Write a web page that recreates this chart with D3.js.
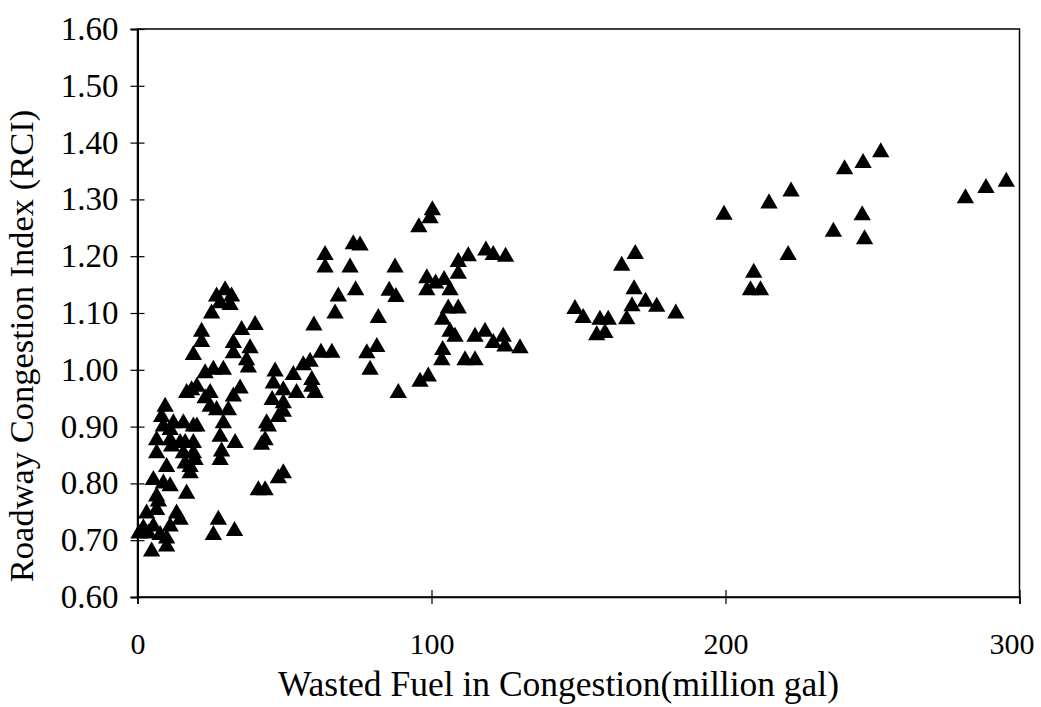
<!DOCTYPE html>
<html>
<head>
<meta charset="utf-8">
<script src="https://cdn.jsdelivr.net/npm/d3@7"></script>
<style>
  body { margin: 0; background: #fff; }
  svg { display: block; }
  svg text { font-family: 'Liberation Serif', 'Times New Roman', serif; fill: #000; }
</style>
</head>
<body>
<div id="chart"></div>
<script>
// tick values
const xTicks = [0, 100, 200, 300];
const yTicks = [0.6, 0.7, 0.8, 0.9, 1.0, 1.1, 1.2, 1.3, 1.4, 1.5, 1.6];

// [wasted fuel (million gal), RCI]
const pointsLow = [
  [0.5,0.712],[2.0,0.721],[3.7,0.712],[5.4,0.724],[7.7,0.709],[9.9,0.703],
  [4.8,0.680],[9.9,0.689],[3.1,0.747],[6.5,0.753],[13.3,0.747],[14.5,0.736],
  [11.1,0.724],[7.1,0.768],[6.5,0.777],[5.4,0.806],[8.8,0.800],[11.1,0.795],
  [16.7,0.782],[17.9,0.818],[17.9,0.829],[9.9,0.829],[6.5,0.853],[11.6,0.865],
  [14.5,0.871],[15.6,0.853],[19.0,0.853],[6.5,0.876],[11.1,0.876],[11.1,0.894],
  [9.4,0.935],[8.2,0.917],[8.8,0.900],[12.2,0.906],[15.6,0.906],[19.0,0.900],
  [20.2,0.900],[16.2,0.871],[19.0,0.871],[16.2,0.835],[19.6,0.841],
  [16.7,0.959],[20.2,0.970],[23.0,0.950],[24.7,0.935],[18.4,0.964],[24.7,0.959],
  [26.9,0.929],[34.9,0.967],[32.6,0.953],[30.9,0.929],[29.2,0.906],[28.1,0.882],
  [28.6,0.856],[33.2,0.871],[28.1,0.841],[23.0,0.994],[25.8,1.000],[29.2,1.000],
  [37.7,1.004],[37.1,1.017],[32.6,1.029],[38.3,1.038],[32.6,1.047],[35.4,1.070],
  [40.0,1.079],[19.0,1.026],[21.8,1.049],[21.8,1.067],[25.2,1.099],[28.1,1.117],
  [31.5,1.114],[26.9,1.129],[32.0,1.129],[29.8,1.140],
  [27.5,0.736],[25.8,0.709],[33.0,0.716]
];

const pointsMid = [
  [46.8,0.997],[46.2,0.976],[49.6,0.964],[54.1,0.959],[60.4,0.959],[59.3,0.982],
  [59.3,0.970],[56.4,1.008],[58.7,1.014],[53.0,0.991],[49.6,0.941],[49.6,0.926],
  [47.9,0.917],[44.5,0.900],[43.4,0.876],[42.2,0.868],[49.6,0.818],[47.9,0.809],
  [41.1,0.788],[43.4,0.788],[45.8,0.947],[43.9,0.906],[60.0,1.078],[62.4,1.030],
  [66.1,1.030],
  [63.8,1.202],[63.8,1.180],[72.3,1.180],[87.6,1.180],[73.4,1.221],[75.7,1.219],
  [68.3,1.129],[74.2,1.140],[85.6,1.139],[87.9,1.128],[67.2,1.099],[81.9,1.091],
  [78.0,1.029],[81.4,1.040],[79.1,1.000],[88.7,0.959],[96.1,0.979],[98.9,0.988],
  [98.4,1.161],[98.4,1.140],[100.3,1.281],[99.5,1.267],[95.7,1.251],[101.4,1.152]
];

const pointsHigh = [
  [104.3,1.158],[106.3,1.140],[109.1,1.190],[112.5,1.200],[118.5,1.210],[121.0,1.202],
  [125.2,1.199],[109.1,1.169],[105.7,1.108],[109.1,1.108],[103.8,1.088],[106.3,1.067],
  [108.0,1.058],[114.8,1.058],[118.2,1.067],[121.0,1.047],[124.4,1.058],[125.0,1.041],
  [130.1,1.038],[111.4,1.017],[114.8,1.017],[103.8,1.035],[103.5,1.017],
  [148.8,1.107],[151.6,1.091],[157.3,1.088],[160.1,1.088],[156.2,1.061],[159.0,1.065],
  [164.7,1.183],[169.3,1.204],[168.9,1.142],[172.8,1.120],[168.2,1.112],[176.6,1.111],
  [166.4,1.089],[183.1,1.099],
  [199.5,1.273],[214.8,1.293],[222.3,1.314],[209.6,1.171],[208.5,1.140],[211.9,1.140],
  [221.3,1.202],[236.7,1.243],[246.5,1.272],[247.3,1.230],[240.5,1.353],[246.8,1.364],
  [252.8,1.383],[281.6,1.302],[288.6,1.320],[295.5,1.331]
];

const points = pointsLow.concat(pointsMid, pointsHigh);

const width = 1041, height = 707;
const margin = { top: 29, right: 21.5, bottom: 110, left: 137.5 };

const svg = d3.select('#chart')
  .append('svg')
  .attr('width', width)
  .attr('height', height);

const x = d3.scaleLinear()
  .domain([0, 300])
  .range([margin.left, width - margin.right]);

const y = d3.scaleLinear()
  .domain([0.6, 1.6])
  .range([height - margin.bottom, margin.top]);

// frame
svg.append('rect')
  .attr('x', x(0))
  .attr('y', y(1.6))
  .attr('width', x(300) - x(0))
  .attr('height', y(0.6) - y(1.6))
  .attr('fill', 'none')
  .attr('stroke', '#000')
  .attr('stroke-width', 1.5);

// x axis
const xAxis = svg.append('g')
  .attr('transform', `translate(0,${y(0.6)})`)
  .call(d3.axisBottom(x).tickValues(xTicks).tickSize(7).tickPadding(29).tickFormat(d3.format('d')));
xAxis.attr('font-family', null);
xAxis.select('.domain').attr('stroke-width', 1.5);
xAxis.selectAll('.tick line').attr('y1', -7).attr('stroke-width', 1.2);
xAxis.selectAll('.tick text')
  .attr('font-size', 30)
  .attr('dx', d => d === 300 ? -8 : 0);

// y axis
const yAxis = svg.append('g')
  .attr('transform', `translate(${x(0)},0)`)
  .call(d3.axisLeft(y).tickValues(yTicks).tickSize(7).tickPadding(12).tickFormat(d3.format('.2f')));
yAxis.attr('font-family', null);
yAxis.select('.domain').attr('stroke-width', 2);
yAxis.selectAll('.tick line').attr('x1', 7).attr('stroke-width', 1.2);
yAxis.selectAll('.tick text')
  .attr('font-size', 33);

// markers
const tri = d3.symbol().type(d3.symbolTriangle).size(130);
svg.append('g')
  .selectAll('path')
  .data(points)
  .join('path')
  .attr('transform', d => `translate(${x(d[0])},${y(d[1])})`)
  .attr('d', tri)
  .attr('fill', '#000');

// titles
svg.append('text')
  .attr('x', (x(0) + x(300)) / 2 - 20)
  .attr('y', 696)
  .attr('text-anchor', 'middle')
  .attr('font-size', 35.5)
  .text('Wasted Fuel in Congestion(million gal)');

svg.append('text')
  .attr('transform', `translate(33,${(y(0.6) + y(1.6)) / 2 + 33}) rotate(-90)`)
  .attr('text-anchor', 'middle')
  .attr('font-size', 34.5)
  .text('Roadway Congestion Index (RCI)');
</script>
</body>
</html>
